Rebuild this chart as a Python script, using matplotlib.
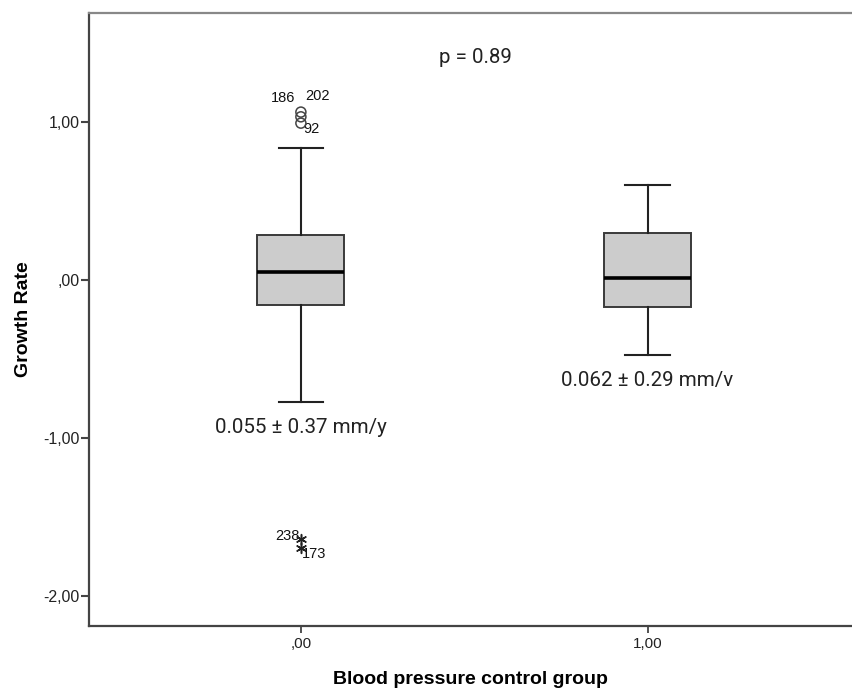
import matplotlib
matplotlib.use("Agg")
import matplotlib.pyplot as plt

# Group positions and labels
groups = [0.0, 1.0]
group_labels = [",00", "1,00"]

# Box summary statistics per group
q1 = [-0.161, -0.176]
median = [0.046, 0.008]
q3 = [0.282, 0.296]
whisker_low = [-0.777, -0.478]
whisker_high = [0.832, 0.596]

# Outliers (circles) and extreme values (stars) for group ,00
outlier_vals = [1.06, 1.03, 0.99]
outlier_ids = ["186", "202", "92"]
extreme_vals = [-1.64, -1.70]
extreme_ids = ["238", "173"]

# Group summaries
summary_text = ["0.055 \u00b1 0.37 mm/y", "0.062 \u00b1 0.29 mm/v"]
p_text = "p = 0.89"

yticks = [-2.0, -1.0, 0.0, 1.0]
ytick_labels = ["-2,00", "-1,00", ",00", "1,00"]

fig = plt.figure(figsize=(8.52, 6.89), dpi=100)
ax = fig.add_axes([0.105, 0.0914, 0.895, 0.8897])

stats = []
for i in range(len(groups)):
    stats.append(dict(q1=q1[i], med=median[i], q3=q3[i],
                      whislo=whisker_low[i], whishi=whisker_high[i],
                      fliers=[]))

ax.bxp(stats, positions=groups, widths=0.251, patch_artist=True,
       showfliers=False,
       boxprops=dict(facecolor="#cccccc", edgecolor="#3a3a3a", linewidth=1.4),
       medianprops=dict(color="black", linewidth=2.6),
       whiskerprops=dict(color="#222222", linewidth=1.5),
       capprops=dict(color="#222222", linewidth=1.5),
       capwidths=0.127)

# Outliers
ax.scatter([groups[0]] * len(outlier_vals), outlier_vals, s=52,
           facecolors="none", edgecolors="#444444", linewidths=1.1, zorder=4)
ax.scatter([groups[0]] * len(extreme_vals), extreme_vals, s=50,
           marker=(6, 2, 0), color="#222222", linewidths=1.1, zorder=4)

lab_kw = dict(fontsize=10.5, family="Liberation Sans", color="#111111")
ax.annotate(outlier_ids[0], (groups[0], outlier_vals[0]), xytext=(-4, 5),
            textcoords="offset points", ha="right", va="bottom", **lab_kw)
ax.annotate(outlier_ids[1], (groups[0], outlier_vals[1]), xytext=(3, 10),
            textcoords="offset points", ha="left", va="bottom", **lab_kw)
ax.annotate(outlier_ids[2], (groups[0], outlier_vals[2]), xytext=(2, 1),
            textcoords="offset points", ha="left", va="top", **lab_kw)
ax.annotate(extreme_ids[0], (groups[0], extreme_vals[0]), xytext=(-1, 2),
            textcoords="offset points", ha="right", va="center", **lab_kw)
ax.annotate(extreme_ids[1], (groups[0], extreme_vals[1]), xytext=(1, -4),
            textcoords="offset points", ha="left", va="center", **lab_kw)

txt_kw = dict(fontsize=14.8, family="Roboto", color="#222222",
              ha="center", va="center")
ax.text(groups[0], -0.935, summary_text[0], **txt_kw)
ax.text(groups[1], -0.64, summary_text[1], **txt_kw)
ax.text(0.505, 1.405, p_text, **txt_kw)

ax.set_xlim(-0.610, 1.590)
ax.set_ylim(-2.193, 1.687)
ax.set_xticks(groups)
ax.set_xticklabels(group_labels, fontsize=11, family="Liberation Sans")
ax.set_yticks(yticks)
ax.set_yticklabels(ytick_labels, fontsize=11.5, family="Liberation Sans")
ax.tick_params(axis="y", length=6, width=1.5, color="#444444", pad=1,
               labelcolor="#222222")
ax.tick_params(axis="x", length=5, width=1.3, color="#444444", pad=3,
               labelcolor="#222222")

for side in ["left", "bottom", "top"]:
    ax.spines[side].set_color("#444444")
    ax.spines[side].set_linewidth(1.6)
ax.spines["top"].set_color("#888888")
ax.spines["right"].set_visible(False)

ax.set_ylabel("Growth Rate", fontsize=14, fontweight="bold",
              family="Liberation Sans")
ax.yaxis.set_label_coords(-0.076, 0.5)
ax.set_xlabel("Blood pressure control group", fontsize=14,
              fontweight="bold", family="Liberation Sans")
ax.xaxis.set_label_coords(0.5, -0.073)

fig.savefig("out.png", dpi=100)
